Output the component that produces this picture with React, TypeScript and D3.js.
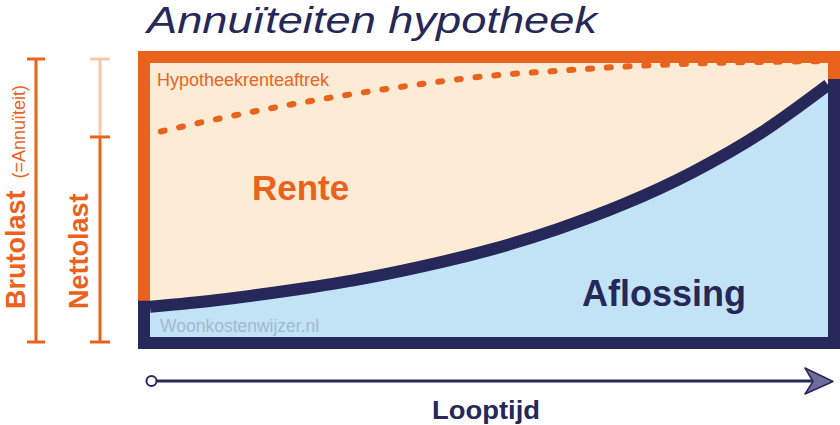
import React from "react";
import * as d3 from "d3";

const years = [0, 3, 6, 9, 12, 15, 18, 21, 24, 27, 30];
const aflossing = [11, 13.5, 16.8, 20.7, 25.7, 31.7, 39.3, 48.6, 60.1, 74.3, 92];
const nettolast = [74.1, 79.6, 84.5, 88.7, 92.3, 95.3, 97.1, 98.7, 99.8, 100.4, 100.7];

const ORANGE = "#EA631E";
const NAVY = "#252858";
const PEACH = "#FDECD5";
const BLUE = "#C2E3F6";
const LIGHT_ORANGE = "#F8C6A8";
const FONT = "'Liberation Sans', Arial, Helvetica, sans-serif";

export default function App() {
  const W = 840, H = 425;
  const x = d3.scaleLinear().domain([0, 30]).range([150, 828]);
  const y = d3.scaleLinear().domain([0, 100]).range([337, 63]);
  const bw = 12;

  const pts = years.map((t, i) => ({ t, a: aflossing[i], n: nettolast[i] }));
  const curveLine = d3.line<any>().x(d => x(d.t)).y(d => y(d.a)).curve(d3.curveMonotoneX);
  const nettoLine = d3.line<any>().x(d => x(d.t)).y(d => y(d.n)).curve(d3.curveMonotoneX);
  const blueArea = d3.area<any>().x(d => x(d.t)).y0(y(0)).y1(d => y(d.a)).curve(d3.curveMonotoneX);
  const clipArea = d3.area<any>().x(d => x(d.t)).y0(y(0) + 30).y1(d => y(d.a) - 6).curve(d3.curveMonotoneX);

  const x0 = x(0), x1 = x(30), yTop = y(100), yBot = y(0);
  const aStart = y(aflossing[0]);
  const aEnd = y(aflossing[aflossing.length - 1]);

  const bracketTop = yTop - 4;
  const bracketBot = yBot + 5;
  const nettoMid = y(nettolast[0]) + 3;

  return (
    <svg width={W} height={H} style={{ position: "absolute", left: 0, top: 0, background: "#fff" }}>
      <defs>
        <clipPath id="navyClip">
          <path d={clipArea(pts) || ""} />
          <rect x={x0 - 20} y={aStart - 6} width={20} height={yBot + 30 - aStart} />
          <rect x={x1} y={aEnd - 6} width={30} height={yBot + 30 - aEnd} />
        </clipPath>
      </defs>

      {/* title */}
      <text x={147} y={33} fontFamily={FONT} fontStyle="italic" fontSize={36} fill={NAVY}
        textLength={450} lengthAdjust="spacingAndGlyphs">Annuïteiten hypotheek</text>

      {/* plot fills */}
      <rect x={x0} y={yTop} width={x1 - x0} height={yBot - yTop} fill={PEACH} />
      <path d={blueArea(pts) || ""} fill={BLUE} />

      {/* nettolast dashed line */}
      <path d={nettoLine(pts) || ""} fill="none" stroke={ORANGE} strokeWidth={6}
        strokeLinecap="round" strokeDasharray="4 14.8" strokeDashoffset={-11} />

      {/* aflossing curve */}
      <path d={curveLine(pts) || ""} fill="none" stroke={NAVY} strokeWidth={bw} />

      {/* borders */}
      <rect x={x0 - bw / 2} y={yTop - bw / 2} width={x1 - x0 + bw} height={yBot - yTop + bw}
        fill="none" stroke={ORANGE} strokeWidth={bw} />
      <rect x={x0 - bw / 2} y={yTop - bw / 2} width={x1 - x0 + bw} height={yBot - yTop + bw}
        fill="none" stroke={NAVY} strokeWidth={bw} clipPath="url(#navyClip)" />

      {/* labels inside */}
      <text x={157} y={86} fontFamily={FONT} fontSize={18} fill={ORANGE}>Hypotheekrenteaftrek</text>
      <text x={252} y={200} fontFamily={FONT} fontSize={35} fontWeight="bold" fill={ORANGE}>Rente</text>
      <text x={582} y={306} fontFamily={FONT} fontSize={36} fontWeight="bold" fill={NAVY}>Aflossing</text>
      <text x={160} y={332} fontFamily={FONT} fontSize={17.5} fill="#A3B9D0">Woonkostenwijzer.nl</text>

      {/* brutolast bracket */}
      <g stroke={ORANGE} strokeWidth={3}>
        <line x1={36} x2={36} y1={bracketTop} y2={bracketBot} />
        <line x1={27} x2={45} y1={bracketTop} y2={bracketTop} />
        <line x1={27} x2={45} y1={bracketBot} y2={bracketBot} />
      </g>
      {/* nettolast bracket */}
      <g strokeWidth={3}>
        <line x1={100} x2={100} y1={bracketTop} y2={nettoMid} stroke={LIGHT_ORANGE} />
        <line x1={90} x2={110} y1={bracketTop} y2={bracketTop} stroke={LIGHT_ORANGE} />
        <line x1={100} x2={100} y1={nettoMid} y2={bracketBot} stroke={ORANGE} />
        <line x1={90} x2={110} y1={nettoMid} y2={nettoMid} stroke={ORANGE} />
        <line x1={90} x2={110} y1={bracketBot} y2={bracketBot} stroke={ORANGE} />
      </g>

      <text transform="translate(25,309) rotate(-90)" fontFamily={FONT} fill={ORANGE}>
        <tspan fontSize={27} fontWeight="bold">Brutolast</tspan>
        <tspan dx={12} fontSize={18}>(=Annuïteit)</tspan>
      </text>
      <text transform="translate(88,309) rotate(-90)" fontFamily={FONT} fill={ORANGE}
        fontSize={27} fontWeight="bold">Nettolast</text>

      {/* time arrow */}
      <line x1={157} x2={814} y1={381} y2={381} stroke={NAVY} strokeWidth={3} />
      <circle cx={151.5} cy={381} r={5} fill="#fff" stroke={NAVY} strokeWidth={2} />
      <path d="M805,368 L833,381.5 L805,394 L813,381.5 Z" fill="#6E6E9E" stroke={NAVY} strokeWidth={1.5} strokeLinejoin="round" />
      <text x={486} y={419} textAnchor="middle" fontFamily={FONT} fontSize={26} fontWeight="bold" fill={NAVY}
        textLength={108} lengthAdjust="spacingAndGlyphs">Looptijd</text>
    </svg>
  );
}
